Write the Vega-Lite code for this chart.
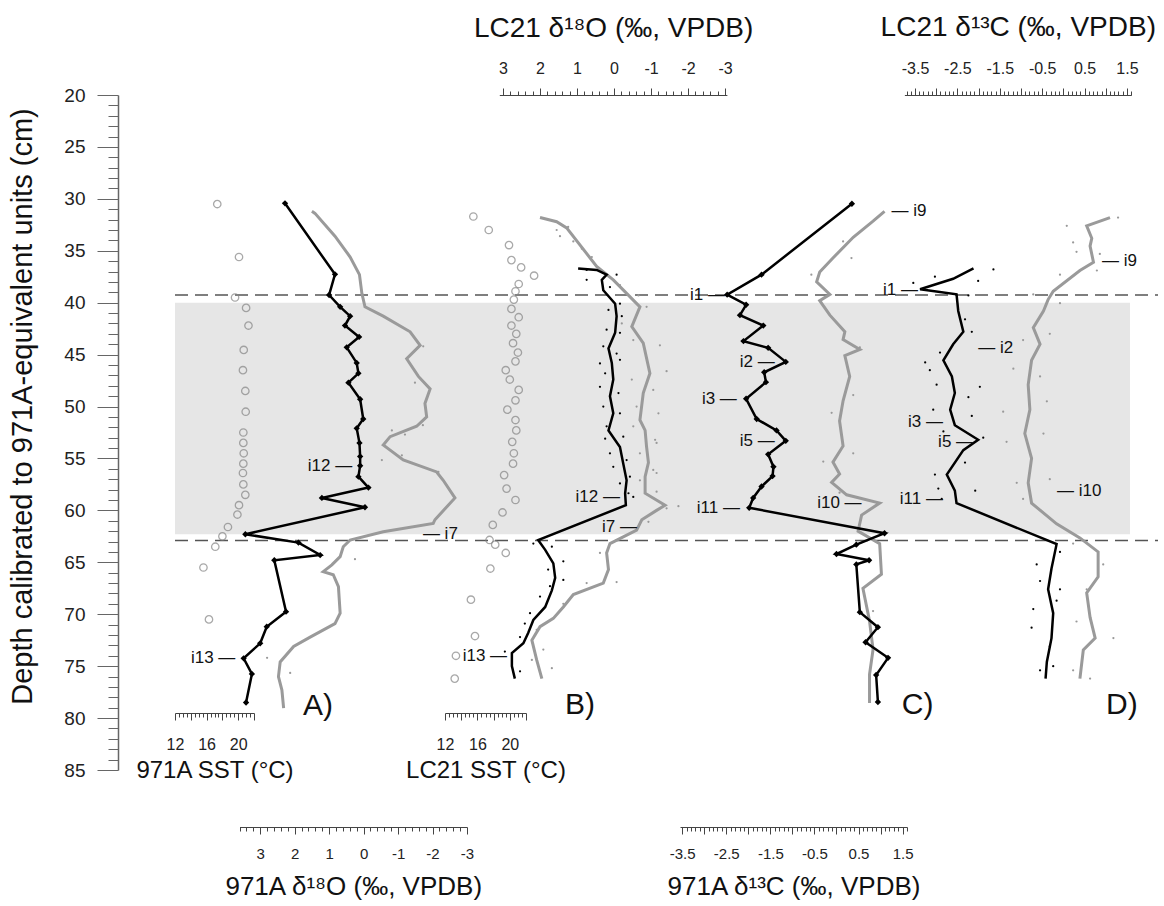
{
"$schema":"https://vega.github.io/schema/vega-lite/v6.json",
"width":1040,"height":675,
"autosize":{"type":"none"},
"padding":{"left":118,"top":95,"right":6,"bottom":136},
"config":{"view":{"stroke":null},"font":"Liberation Sans",
 "axis":{"grid":false,"labelFont":"Liberation Sans","titleFont":"Liberation Sans","titleFontWeight":"normal","labelColor":"#222","titleColor":"#111","domainColor":"#444","tickColor":"#444","labelFlush":false,"labelOverlap":false,"labelBound":false,"labelFontSize":16,"titleFontSize":28},
 "text":{"font":"Liberation Sans","color":"#111"}},
"datasets":{
 "A_sst":[{"depth":30.5,"v":17.35},{"depth":35.6,"v":20.1},{"depth":39.5,"v":19.6},{"depth":40.5,"v":21.0},{"depth":42.2,"v":21.3},{"depth":44.55,"v":20.7},{"depth":46.5,"v":20.6},{"depth":48.5,"v":20.9},{"depth":50.5,"v":20.95},{"depth":52.5,"v":20.65},{"depth":53.5,"v":20.65},{"depth":54.5,"v":20.7},{"depth":55.5,"v":20.65},{"depth":56.4,"v":20.6},{"depth":57.5,"v":20.65},{"depth":58.5,"v":20.9},{"depth":59.5,"v":20.1},{"depth":60.4,"v":19.9},{"depth":61.6,"v":18.7},{"depth":62.5,"v":18.0},{"depth":63.5,"v":17.1},{"depth":65.5,"v":15.6},{"depth":70.5,"v":16.3}],
 "B_sst":[{"depth":31.7,"v":15.5},{"depth":33.0,"v":17.4},{"depth":34.45,"v":19.9},{"depth":35.9,"v":20.2},{"depth":36.6,"v":21.4},{"depth":37.4,"v":23.0},{"depth":38.2,"v":21.1},{"depth":38.9,"v":20.7},{"depth":39.7,"v":20.5},{"depth":40.6,"v":20.2},{"depth":41.4,"v":21.1},{"depth":42.2,"v":20.2},{"depth":43.0,"v":20.8},{"depth":43.9,"v":20.4},{"depth":44.8,"v":21.0},{"depth":45.65,"v":20.7},{"depth":46.5,"v":19.5},{"depth":47.4,"v":20.0},{"depth":48.4,"v":21.1},{"depth":49.4,"v":20.7},{"depth":50.3,"v":19.7},{"depth":51.3,"v":20.7},{"depth":52.3,"v":20.8},{"depth":53.4,"v":20.3},{"depth":54.5,"v":20.5},{"depth":55.5,"v":20.4},{"depth":56.6,"v":19.3},{"depth":57.9,"v":19.6},{"depth":59.0,"v":20.7},{"depth":60.2,"v":19.1},{"depth":61.4,"v":17.9},{"depth":62.85,"v":17.5},{"depth":63.3,"v":18.2},{"depth":64.1,"v":19.5},{"depth":65.6,"v":17.6},{"depth":68.6,"v":15.2},{"depth":72.1,"v":15.7},{"depth":74.0,"v":13.35},{"depth":76.2,"v":13.2}],
 "A_black":[{"depth":30.43,"v":2.28},{"depth":37.27,"v":0.83},{"depth":39.26,"v":1.0},{"depth":40.4,"v":0.68},{"depth":41.3,"v":0.39},{"depth":42.2,"v":0.54},{"depth":43.3,"v":0.13},{"depth":44.3,"v":0.49},{"depth":45.8,"v":0.2},{"depth":46.8,"v":0.15},{"depth":47.7,"v":0.44},{"depth":49.3,"v":0.1},{"depth":51.2,"v":0.01},{"depth":52.1,"v":0.2},{"depth":53.5,"v":0.12},{"depth":54.8,"v":0.1},{"depth":55.7,"v":0.1},{"depth":56.75,"v":0.15},{"depth":57.8,"v":-0.14},{"depth":58.8,"v":1.21},{"depth":59.7,"v":-0.04},{"depth":62.3,"v":3.43},{"depth":63.1,"v":1.89},{"depth":64.3,"v":1.26},{"depth":64.8,"v":2.59},{"depth":69.75,"v":2.25},{"depth":71.2,"v":2.81},{"depth":72.8,"v":3.0},{"depth":74.25,"v":3.48},{"depth":75.75,"v":3.24},{"depth":78.5,"v":3.41}],
 "A_gray":[{"depth":31.2,"v":1.5},{"depth":31.4,"v":1.41},{"depth":33.6,"v":0.83},{"depth":35.6,"v":0.39},{"depth":37.3,"v":0.12},{"depth":39.1,"v":0.05},{"depth":40.4,"v":-0.04},{"depth":41.3,"v":-0.57},{"depth":42.8,"v":-1.35},{"depth":44.1,"v":-1.64},{"depth":45.4,"v":-1.25},{"depth":47.1,"v":-1.59},{"depth":48.3,"v":-1.93},{"depth":49.7,"v":-1.78},{"depth":51.0,"v":-1.83},{"depth":51.9,"v":-1.54},{"depth":52.9,"v":-0.77},{"depth":53.7,"v":-0.57},{"depth":54.2,"v":-0.77},{"depth":55.15,"v":-1.15},{"depth":56.3,"v":-2.12},{"depth":57.1,"v":-2.31},{"depth":58.8,"v":-2.65},{"depth":60.9,"v":-2.07},{"depth":61.25,"v":-2.02},{"depth":62.05,"v":-0.57},{"depth":62.85,"v":0.39},{"depth":63.5,"v":0.59},{"depth":64.45,"v":0.68},{"depth":65.25,"v":0.92},{"depth":65.9,"v":1.17},{"depth":66.2,"v":0.88},{"depth":67.35,"v":0.73},{"depth":69.9,"v":0.68},{"depth":70.9,"v":0.83},{"depth":72.2,"v":1.55},{"depth":73.1,"v":2.03},{"depth":74.6,"v":2.42},{"depth":76.0,"v":2.47},{"depth":77.3,"v":2.37},{"depth":79.05,"v":2.32}],
 "A_dots":[{"depth":74.2,"v":2.8},{"depth":75.65,"v":2.13},{"depth":64.7,"v":0.25},{"depth":44.2,"v":-1.73},{"depth":47.7,"v":-1.49},{"depth":51.8,"v":-1.72},{"depth":52.3,"v":-0.82},{"depth":52.7,"v":-1.2},{"depth":55.15,"v":-0.53},{"depth":54.7,"v":-1.11},{"depth":56.3,"v":-2.17}],
 "B_black":[{"depth":36.7,"v":0.97},{"depth":36.85,"v":0.47},{"depth":37.3,"v":0.2},{"depth":37.8,"v":0.33},{"depth":38.8,"v":0.29},{"depth":40.1,"v":-0.03},{"depth":41.3,"v":-0.07},{"depth":42.9,"v":-0.03},{"depth":44.4,"v":0.15},{"depth":45.8,"v":0.06},{"depth":47.4,"v":0.02},{"depth":49.0,"v":0.11},{"depth":50.65,"v":0.02},{"depth":52.3,"v":0.15},{"depth":53.9,"v":-0.16},{"depth":55.5,"v":-0.25},{"depth":57.1,"v":-0.34},{"depth":58.35,"v":-0.3},{"depth":59.5,"v":-0.32},{"depth":62.85,"v":2.05},{"depth":63.8,"v":1.86},{"depth":65.1,"v":1.64},{"depth":66.5,"v":1.59},{"depth":67.7,"v":1.68},{"depth":69.3,"v":1.86},{"depth":70.55,"v":2.18},{"depth":71.8,"v":2.32},{"depth":72.8,"v":2.45},{"depth":73.75,"v":2.76},{"depth":75.0,"v":2.76},{"depth":76.2,"v":2.68}],
 "B_gray":[{"depth":31.8,"v":2.0},{"depth":32.2,"v":1.55},{"depth":32.8,"v":1.28},{"depth":36.5,"v":0.47},{"depth":37.8,"v":0.02},{"depth":39.1,"v":-0.34},{"depth":40.4,"v":-0.7},{"depth":42.3,"v":-0.48},{"depth":43.9,"v":-0.79},{"depth":46.8,"v":-0.97},{"depth":48.7,"v":-0.79},{"depth":51.3,"v":-0.7},{"depth":52.3,"v":-0.84},{"depth":53.9,"v":-0.88},{"depth":55.4,"v":-0.93},{"depth":56.75,"v":-0.84},{"depth":58.35,"v":-0.84},{"depth":59.5,"v":-1.38},{"depth":60.0,"v":-1.15},{"depth":60.9,"v":-0.75},{"depth":61.9,"v":-0.61},{"depth":63.2,"v":0.11},{"depth":64.1,"v":0.2},{"depth":65.7,"v":0.15},{"depth":67.0,"v":0.29},{"depth":68.1,"v":1.1},{"depth":69.3,"v":1.37},{"depth":70.4,"v":1.64},{"depth":71.2,"v":2.0},{"depth":72.5,"v":2.22},{"depth":74.4,"v":2.09},{"depth":76.2,"v":1.95}],
 "B_bdots":[{"depth":36.85,"v":0.74},{"depth":37.3,"v":-0.07},{"depth":37.8,"v":0.74},{"depth":38.5,"v":0.11},{"depth":40.1,"v":-0.16},{"depth":40.7,"v":0.15},{"depth":41.3,"v":-0.21},{"depth":42.6,"v":0.2},{"depth":42.9,"v":-0.16},{"depth":44.2,"v":0.29},{"depth":44.9,"v":-0.07},{"depth":45.5,"v":-0.16},{"depth":45.85,"v":0.38},{"depth":46.8,"v":0.24},{"depth":48.1,"v":0.38},{"depth":48.7,"v":-0.12},{"depth":50.0,"v":0.29},{"depth":50.65,"v":-0.16},{"depth":51.9,"v":0.2},{"depth":52.9,"v":-0.25},{"depth":53.1,"v":0.24},{"depth":54.5,"v":0.11},{"depth":55.15,"v":-0.34},{"depth":55.8,"v":0.02},{"depth":56.75,"v":-0.43},{"depth":57.4,"v":-0.16},{"depth":58.35,"v":-0.39},{"depth":58.7,"v":-0.52},{"depth":63.2,"v":2.18},{"depth":63.5,"v":1.68},{"depth":64.9,"v":1.37},{"depth":65.7,"v":1.78},{"depth":66.7,"v":1.37},{"depth":67.3,"v":1.73},{"depth":68.3,"v":2.0},{"depth":69.9,"v":2.27},{"depth":70.9,"v":2.41},{"depth":72.2,"v":2.54},{"depth":73.6,"v":2.95},{"depth":75.5,"v":2.54}],
 "B_gdots":[{"depth":32.7,"v":1.24},{"depth":33.0,"v":1.55},{"depth":33.6,"v":1.46},{"depth":34.1,"v":1.1},{"depth":34.8,"v":0.87},{"depth":35.6,"v":0.6},{"depth":38.3,"v":-0.16},{"depth":39.3,"v":-0.66},{"depth":40.4,"v":-0.88},{"depth":42.0,"v":-0.21},{"depth":43.6,"v":-0.52},{"depth":44.1,"v":-1.24},{"depth":46.6,"v":-1.42},{"depth":47.4,"v":-0.48},{"depth":48.4,"v":-1.06},{"depth":50.0,"v":-0.61},{"depth":50.65,"v":-1.2},{"depth":51.9,"v":-0.52},{"depth":53.2,"v":-1.11},{"depth":53.5,"v":-1.15},{"depth":54.5,"v":-0.7},{"depth":56.1,"v":-1.06},{"depth":56.4,"v":-1.15},{"depth":57.1,"v":-0.7},{"depth":58.2,"v":-1.15},{"depth":59.6,"v":-1.74},{"depth":59.8,"v":-1.42},{"depth":61.1,"v":-0.93},{"depth":64.1,"v":0.38},{"depth":66.9,"v":-0.07},{"depth":67.0,"v":0.74},{"depth":69.0,"v":1.37},{"depth":71.5,"v":2.09},{"depth":73.4,"v":1.91},{"depth":74.4,"v":2.22},{"depth":75.2,"v":1.68}],
 "C_black":[{"depth":30.47,"v":0.35},{"depth":37.3,"v":-1.7},{"depth":39.23,"v":-2.48},{"depth":40.2,"v":-2.05},{"depth":41.2,"v":-2.19},{"depth":42.2,"v":-1.66},{"depth":43.7,"v":-2.11},{"depth":44.35,"v":-1.55},{"depth":45.7,"v":-1.15},{"depth":46.7,"v":-1.64},{"depth":47.65,"v":-1.6},{"depth":49.25,"v":-2.05},{"depth":51.2,"v":-1.81},{"depth":52.3,"v":-1.36},{"depth":53.3,"v":-1.15},{"depth":54.6,"v":-1.55},{"depth":55.8,"v":-1.43},{"depth":56.7,"v":-1.45},{"depth":57.7,"v":-1.7},{"depth":58.8,"v":-1.89},{"depth":59.75,"v":-1.98},{"depth":62.2,"v":1.09},{"depth":63.3,"v":0.45},{"depth":64.2,"v":0.0},{"depth":64.8,"v":0.74},{"depth":65.2,"v":0.45},{"depth":69.8,"v":0.53},{"depth":71.25,"v":0.94},{"depth":72.7,"v":0.66},{"depth":74.2,"v":1.17},{"depth":75.85,"v":0.9},{"depth":78.45,"v":0.94}],
 "C_gray":[{"depth":31.2,"v":1.09},{"depth":32.15,"v":0.83},{"depth":33.7,"v":0.38},{"depth":35.7,"v":-0.08},{"depth":37.05,"v":-0.38},{"depth":38.0,"v":-0.45},{"depth":39.2,"v":-0.15},{"depth":39.8,"v":-0.38},{"depth":41.2,"v":-0.15},{"depth":42.8,"v":0.19},{"depth":43.55,"v":0.15},{"depth":44.5,"v":0.53},{"depth":45.1,"v":0.19},{"depth":47.1,"v":0.3},{"depth":49.45,"v":0.15},{"depth":51.4,"v":0.07},{"depth":53.8,"v":0.15},{"depth":55.35,"v":-0.08},{"depth":56.5,"v":0.07},{"depth":57.3,"v":-0.11},{"depth":58.5,"v":0.23},{"depth":59.3,"v":0.98},{"depth":60.45,"v":0.57},{"depth":62.0,"v":0.49},{"depth":63.2,"v":0.98},{"depth":66.15,"v":1.02},{"depth":67.5,"v":0.6},{"depth":70.65,"v":0.75},{"depth":73.4,"v":0.83},{"depth":75.8,"v":0.75},{"depth":78.55,"v":0.75}],
 "C_gdots":[{"depth":34.1,"v":0.15},{"depth":35.7,"v":0.34},{"depth":37.3,"v":-0.57},{"depth":44.3,"v":0.53},{"depth":48.9,"v":0.38},{"depth":50.6,"v":-0.11},{"depth":54.5,"v":0.38},{"depth":55.3,"v":-0.3},{"depth":58.3,"v":0.07},{"depth":69.7,"v":0.83}],
 "D_black":[{"depth":36.7,"v":-2.12},{"depth":37.7,"v":-2.6},{"depth":38.7,"v":-3.38},{"depth":39.2,"v":-2.52},{"depth":40.8,"v":-2.48},{"depth":42.8,"v":-2.36},{"depth":44.0,"v":-2.6},{"depth":45.55,"v":-2.83},{"depth":47.1,"v":-2.63},{"depth":48.7,"v":-2.56},{"depth":50.3,"v":-2.67},{"depth":51.8,"v":-2.56},{"depth":53.2,"v":-2.01},{"depth":54.2,"v":-2.36},{"depth":56.55,"v":-2.75},{"depth":58.1,"v":-2.56},{"depth":59.3,"v":-2.52},{"depth":63.25,"v":-0.16},{"depth":65.6,"v":-0.28},{"depth":67.6,"v":-0.36},{"depth":69.9,"v":-0.24},{"depth":72.3,"v":-0.28},{"depth":74.6,"v":-0.39},{"depth":76.2,"v":-0.42}],
 "D_gray":[{"depth":31.8,"v":1.1},{"depth":32.6,"v":0.55},{"depth":33.8,"v":0.67},{"depth":34.55,"v":0.63},{"depth":36.1,"v":0.71},{"depth":36.9,"v":0.39},{"depth":38.9,"v":-0.24},{"depth":39.7,"v":-0.36},{"depth":40.8,"v":-0.47},{"depth":42.4,"v":-0.71},{"depth":44.0,"v":-0.55},{"depth":45.55,"v":-0.75},{"depth":47.9,"v":-0.83},{"depth":50.3,"v":-0.79},{"depth":52.6,"v":-0.91},{"depth":55.0,"v":-0.75},{"depth":57.35,"v":-0.83},{"depth":59.3,"v":-0.75},{"depth":61.3,"v":-0.16},{"depth":62.65,"v":0.39},{"depth":64.0,"v":0.82},{"depth":66.4,"v":0.82},{"depth":67.95,"v":0.55},{"depth":70.3,"v":0.63},{"depth":72.3,"v":0.75},{"depth":73.45,"v":0.47},{"depth":76.2,"v":0.39}],
 "D_bdots":[{"depth":36.8,"v":-1.65},{"depth":37.5,"v":-3.03},{"depth":37.9,"v":-2.01},{"depth":38.1,"v":-3.54},{"depth":39.3,"v":-2.24},{"depth":41.6,"v":-2.32},{"depth":42.8,"v":-2.16},{"depth":44.8,"v":-2.91},{"depth":45.75,"v":-3.26},{"depth":46.5,"v":-3.15},{"depth":47.9,"v":-2.99},{"depth":48.1,"v":-1.97},{"depth":49.1,"v":-2.24},{"depth":50.3,"v":-3.07},{"depth":50.9,"v":-2.16},{"depth":52.4,"v":-2.83},{"depth":53.0,"v":-1.89},{"depth":55.4,"v":-2.32},{"depth":56.55,"v":-3.03},{"depth":57.9,"v":-2.95},{"depth":58.1,"v":-2.08},{"depth":58.9,"v":-2.87},{"depth":64.0,"v":-0.08},{"depth":65.2,"v":-0.63},{"depth":66.8,"v":-0.55},{"depth":67.6,"v":-0.08},{"depth":68.7,"v":-0.16},{"depth":69.5,"v":-0.71},{"depth":71.3,"v":-0.75},{"depth":73.1,"v":-0.32},{"depth":75.0,"v":-0.24},{"depth":75.4,"v":-0.55}],
 "D_gdots":[{"depth":31.8,"v":1.29},{"depth":32.6,"v":0.08},{"depth":34.2,"v":0.23},{"depth":35.1,"v":0.31},{"depth":35.3,"v":0.86},{"depth":36.9,"v":0.79},{"depth":37.3,"v":-0.08},{"depth":39.2,"v":-0.71},{"depth":40.05,"v":-0.08},{"depth":43.0,"v":-0.32},{"depth":43.6,"v":-0.95},{"depth":46.35,"v":-1.18},{"depth":47.1,"v":-0.55},{"depth":49.5,"v":-0.39},{"depth":50.5,"v":-1.42},{"depth":52.6,"v":-0.47},{"depth":53.4,"v":-1.34},{"depth":57.0,"v":-0.32},{"depth":57.35,"v":-1.1},{"depth":58.9,"v":-0.95},{"depth":63.2,"v":0.23},{"depth":65.2,"v":0.94},{"depth":67.6,"v":0.55},{"depth":70.7,"v":0.31},{"depth":72.3,"v":1.18},{"depth":75.4,"v":0.23},{"depth":76.2,"v":0.63}],
 "labs":[
  {"panel":"A","side":"R","depth":55.7,"v":0.33,"label":"i12 —"},
  {"panel":"A","side":"R","depth":74.2,"v":3.72,"label":"i13 —"},
  {"panel":"A","side":"L","depth":62.3,"v":-1.72,"label":"— i7"},
  {"panel":"A","side":"C","depth":78.8,"v":1.32,"label":"A)"},
  {"panel":"B","side":"R","depth":58.67,"v":-0.16,"label":"i12 —"},
  {"panel":"B","side":"R","depth":61.57,"v":-0.62,"label":"i7 —"},
  {"panel":"B","side":"R","depth":74.0,"v":2.89,"label":"i13 —"},
  {"panel":"B","side":"C","depth":78.7,"v":0.92,"label":"B)"},
  {"panel":"C","side":"R","depth":39.23,"v":-2.53,"label":"i1 —"},
  {"panel":"C","side":"R","depth":45.7,"v":-1.4,"label":"i2 —"},
  {"panel":"C","side":"R","depth":49.25,"v":-2.26,"label":"i3 —"},
  {"panel":"C","side":"R","depth":53.3,"v":-1.4,"label":"i5 —"},
  {"panel":"C","side":"R","depth":59.75,"v":-2.19,"label":"i11 —"},
  {"panel":"C","side":"R","depth":59.3,"v":0.57,"label":"i10 —"},
  {"panel":"C","side":"L","depth":31.2,"v":1.25,"label":"— i9"},
  {"panel":"C","side":"C","depth":78.7,"v":1.84,"label":"C)"},
  {"panel":"D","side":"R","depth":38.8,"v":-3.43,"label":"i1 —"},
  {"panel":"D","side":"L","depth":44.4,"v":-2.01,"label":"— i2"},
  {"panel":"D","side":"R","depth":51.45,"v":-2.84,"label":"i3 —"},
  {"panel":"D","side":"R","depth":53.4,"v":-2.13,"label":"i5 —"},
  {"panel":"D","side":"R","depth":58.9,"v":-2.84,"label":"i11 —"},
  {"panel":"D","side":"L","depth":58.1,"v":-0.15,"label":"— i10"},
  {"panel":"D","side":"L","depth":36.0,"v":0.91,"label":"— i9"},
  {"panel":"D","side":"C","depth":78.7,"v":1.38,"label":"D)"}
 ]
},
"encoding":{"y":{"field":"depth","type":"quantitative",
 "scale":{"domain":[20,85],"reverse":true,"nice":false,"zero":false},
 "axis":{"values":[20,21,22,23,24,25,26,27,28,29,30,31,32,33,34,35,36,37,38,39,40,41,42,43,44,45,46,47,48,49,50,51,52,53,54,55,56,57,58,59,60,61,62,63,64,65,66,67,68,69,70,71,72,73,74,75,76,77,78,79,80,81,82,83,84,85],
  "tickSize":{"condition":{"test":"datum.value % 5 == 0","value":21},"value":10},
  "labelExpr":"datum.value % 5 == 0 ? '' + datum.value : ''",
  "labelFontSize":19,"labelPadding":12,"domainColor":"#666","tickColor":"#666","domainWidth":1.5,
  "title":"Depth calibrated to 971A-equivalent units (cm)","titleFontSize":29,"titleX":-96,"titleY":311,"titleAngle":-90,"titleBaseline":"middle","titleAlign":"center"}}},
"layer":[
 {"data":{"values":[{"depth":40.0,"depth2":62.3,"xa":0,"xb":1}]},
  "mark":{"type":"rect","color":"#e6e6e6"},
  "encoding":{"x":{"field":"xa","type":"quantitative","scale":{"domain":[0,1],"range":[57,1012],"nice":false,"zero":false},"axis":null},"x2":{"field":"xb"},"y2":{"field":"depth2"}}},
 {"data":{"values":[{"depth":39.26,"xa":0,"xb":1},{"depth":62.9,"xa":0,"xb":1}]},
  "mark":{"type":"rule","color":"#555","strokeWidth":1.5,"strokeDash":[13,7]},
  "encoding":{"x":{"field":"xa","type":"quantitative","scale":{"domain":[0,1],"range":[57,1040],"nice":false,"zero":false},"axis":null},"x2":{"field":"xb"}}},
 {"data":{"name":"A_sst"},
  "mark":{"type":"point","shape":"circle","filled":false,"stroke":"#858585","strokeWidth":1.3,"size":55},
  "encoding":{"x":{"field":"v","type":"quantitative","scale":{"domain":[12,22],"range":[57,136],"nice":false,"zero":false},
   "axis":{"orient":"bottom","offset":-57,"values":[12,12.5,13,13.5,14,14.5,15,15.5,16,16.5,17,17.5,18,18.5,19,19.5,20,20.5,21,21.5,22],
    "tickSize":{"condition":{"test":"datum.value % 2 == 0","value":7},"value":4},
    "labelExpr":"datum.value % 4 == 0 ? '' + datum.value : ''","labelPadding":16,
    "title":"971A SST (°C)","titleFontSize":24,"titleY":57,"titleBaseline":"middle"}}}},
 {"data":{"name":"B_sst"},
  "mark":{"type":"point","shape":"circle","filled":false,"stroke":"#858585","strokeWidth":1.3,"size":55},
  "encoding":{"x":{"field":"v","type":"quantitative","scale":{"domain":[12,22],"range":[327,408],"nice":false,"zero":false},
   "axis":{"orient":"bottom","offset":-57,"values":[12,12.5,13,13.5,14,14.5,15,15.5,16,16.5,17,17.5,18,18.5,19,19.5,20,20.5,21,21.5,22],
    "tickSize":{"condition":{"test":"datum.value % 2 == 0","value":7},"value":4},
    "labelExpr":"datum.value % 4 == 0 ? '' + datum.value : ''","labelPadding":16,
    "title":"LC21 SST (°C)","titleFontSize":24,"titleY":57,"titleBaseline":"middle"}}}},
 {"encoding":{"x":{"field":"v","type":"quantitative","scale":{"domain":[3.6,-3],"range":[121.5,349],"nice":false,"zero":false},
   "axis":{"orient":"bottom","offset":57,"values":[3.6,3.4,3.2,3,2.8,2.6,2.4,2.2,2,1.8,1.6,1.4,1.2,1,0.8,0.6,0.4,0.2,0,-0.2,-0.4,-0.6,-0.8,-1,-1.2,-1.4,-1.6,-1.8,-2,-2.2,-2.4,-2.6,-2.8,-3],
    "tickSize":{"condition":{"test":"abs(datum.value - round(datum.value)) < 0.01","value":7},"value":4},
    "labelExpr":"abs(datum.value - round(datum.value)) < 0.01 ? '' + round(datum.value) : ''","labelPadding":12,"labelFontSize":15,
    "title":"971A δ¹⁸O (‰, VPDB)","titleFontSize":26,"titleY":59,"titleBaseline":"middle"}}},
  "layer":[
   {"data":{"name":"A_dots"},"mark":{"type":"circle","color":"#999","size":5,"opacity":1}},
   {"data":{"name":"A_gray"},"mark":{"type":"line","color":"#9a9a9a","strokeWidth":3},"encoding":{"order":{"field":"depth","type":"quantitative"}}},
   {"data":{"name":"A_black"},"mark":{"type":"line","color":"#000","strokeWidth":2.5},"encoding":{"order":{"field":"depth","type":"quantitative"}}},
   {"data":{"name":"A_black"},"mark":{"type":"point","shape":"diamond","filled":true,"color":"#000","size":40,"opacity":1}},
   {"data":{"name":"labs"},"transform":[{"filter":"datum.panel=='A' && datum.side=='R'"}],"mark":{"type":"text","align":"right","baseline":"middle","fontSize":17},"encoding":{"text":{"field":"label"}}},
   {"data":{"name":"labs"},"transform":[{"filter":"datum.panel=='A' && datum.side=='L'"}],"mark":{"type":"text","align":"left","baseline":"middle","fontSize":17},"encoding":{"text":{"field":"label"}}},
   {"data":{"name":"labs"},"transform":[{"filter":"datum.panel=='A' && datum.side=='C'"}],"mark":{"type":"text","align":"center","baseline":"middle","fontSize":30},"encoding":{"text":{"field":"label"}}}
  ]},
 {"encoding":{"x":{"field":"v","type":"quantitative","scale":{"domain":[3.1,-3.05],"range":[381.3,608.9],"nice":false,"zero":false},
   "axis":{"orient":"top","offset":0,"values":[3,2.8,2.6,2.4,2.2,2,1.8,1.6,1.4,1.2,1,0.8,0.6,0.4,0.2,0,-0.2,-0.4,-0.6,-0.8,-1,-1.2,-1.4,-1.6,-1.8,-2,-2.2,-2.4,-2.6,-2.8,-3],
    "tickSize":{"condition":{"test":"abs(datum.value - round(datum.value)) < 0.01","value":7},"value":4},
    "labelExpr":"abs(datum.value - round(datum.value)) < 0.01 ? '' + round(datum.value) : ''","labelPadding":12,
    "title":"LC21 δ¹⁸O (‰, VPDB)","titleY":-67,"titleBaseline":"middle"}}},
  "layer":[
   {"data":{"name":"B_gdots"},"mark":{"type":"circle","color":"#999","size":5,"opacity":1}},
   {"data":{"name":"B_gray"},"mark":{"type":"line","color":"#9a9a9a","strokeWidth":3},"encoding":{"order":{"field":"depth","type":"quantitative"}}},
   {"data":{"name":"B_bdots"},"mark":{"type":"circle","color":"#000","size":5,"opacity":1}},
   {"data":{"name":"B_black"},"mark":{"type":"line","color":"#000","strokeWidth":2.5},"encoding":{"order":{"field":"depth","type":"quantitative"}}},
   {"data":{"name":"labs"},"transform":[{"filter":"datum.panel=='B' && datum.side=='R'"}],"mark":{"type":"text","align":"right","baseline":"middle","fontSize":17},"encoding":{"text":{"field":"label"}}},
   {"data":{"name":"labs"},"transform":[{"filter":"datum.panel=='B' && datum.side=='C'"}],"mark":{"type":"text","align":"center","baseline":"middle","fontSize":30},"encoding":{"text":{"field":"label"}}}
  ]},
 {"encoding":{"x":{"field":"v","type":"quantitative","scale":{"domain":[-3.55,1.6],"range":[562,789],"nice":false,"zero":false},
   "axis":{"orient":"bottom","offset":57,"values":[-3.5,-3.4,-3.3,-3.2,-3.1,-3,-2.9,-2.8,-2.7,-2.6,-2.5,-2.4,-2.3,-2.2,-2.1,-2,-1.9,-1.8,-1.7,-1.6,-1.5,-1.4,-1.3,-1.2,-1.1,-1,-0.9,-0.8,-0.7,-0.6,-0.5,-0.4,-0.3,-0.2,-0.1,0,0.1,0.2,0.3,0.4,0.5,0.6,0.7,0.8,0.9,1,1.1,1.2,1.3,1.4,1.5,1.6],
    "tickSize":{"condition":{"test":"abs(datum.value*2 - round(datum.value*2)) < 0.01","value":7},"value":4},
    "labelExpr":"abs(datum.value - floor(datum.value) - 0.5) < 0.01 ? '' + (round(datum.value*10)/10) : ''","labelPadding":12,"labelFontSize":15,
    "title":"971A δ¹³C (‰, VPDB)","titleFontSize":26,"titleY":59,"titleBaseline":"middle"}}},
  "layer":[
   {"data":{"name":"C_gdots"},"mark":{"type":"circle","color":"#999","size":5,"opacity":1}},
   {"data":{"name":"C_gray"},"mark":{"type":"line","color":"#9a9a9a","strokeWidth":3},"encoding":{"order":{"field":"depth","type":"quantitative"}}},
   {"data":{"name":"C_black"},"mark":{"type":"line","color":"#000","strokeWidth":2.5},"encoding":{"order":{"field":"depth","type":"quantitative"}}},
   {"data":{"name":"C_black"},"mark":{"type":"point","shape":"diamond","filled":true,"color":"#000","size":40,"opacity":1}},
   {"data":{"name":"labs"},"transform":[{"filter":"datum.panel=='C' && datum.side=='R'"}],"mark":{"type":"text","align":"right","baseline":"middle","fontSize":17},"encoding":{"text":{"field":"label"}}},
   {"data":{"name":"labs"},"transform":[{"filter":"datum.panel=='C' && datum.side=='L'"}],"mark":{"type":"text","align":"left","baseline":"middle","fontSize":17},"encoding":{"text":{"field":"label"}}},
   {"data":{"name":"labs"},"transform":[{"filter":"datum.panel=='C' && datum.side=='C'"}],"mark":{"type":"text","align":"center","baseline":"middle","fontSize":30},"encoding":{"text":{"field":"label"}}}
  ]},
 {"encoding":{"x":{"field":"v","type":"quantitative","scale":{"domain":[-3.75,1.6],"range":[786.4,1013.2],"nice":false,"zero":false},
   "axis":{"orient":"top","offset":0,"values":[-3.7,-3.6,-3.5,-3.4,-3.3,-3.2,-3.1,-3,-2.9,-2.8,-2.7,-2.6,-2.5,-2.4,-2.3,-2.2,-2.1,-2,-1.9,-1.8,-1.7,-1.6,-1.5,-1.4,-1.3,-1.2,-1.1,-1,-0.9,-0.8,-0.7,-0.6,-0.5,-0.4,-0.3,-0.2,-0.1,0,0.1,0.2,0.3,0.4,0.5,0.6,0.7,0.8,0.9,1,1.1,1.2,1.3,1.4,1.5,1.6],
    "tickSize":{"condition":{"test":"abs(datum.value*2 - round(datum.value*2)) < 0.01","value":7},"value":4},
    "labelExpr":"abs(datum.value - floor(datum.value) - 0.5) < 0.01 ? '' + (round(datum.value*10)/10) : ''","labelPadding":12,
    "title":"LC21 δ¹³C (‰, VPDB)","titleY":-68,"titleBaseline":"middle"}}},
  "layer":[
   {"data":{"name":"D_gdots"},"mark":{"type":"circle","color":"#999","size":5,"opacity":1}},
   {"data":{"name":"D_gray"},"mark":{"type":"line","color":"#9a9a9a","strokeWidth":3},"encoding":{"order":{"field":"depth","type":"quantitative"}}},
   {"data":{"name":"D_bdots"},"mark":{"type":"circle","color":"#000","size":5,"opacity":1}},
   {"data":{"name":"D_black"},"mark":{"type":"line","color":"#000","strokeWidth":2.5},"encoding":{"order":{"field":"depth","type":"quantitative"}}},
   {"data":{"name":"labs"},"transform":[{"filter":"datum.panel=='D' && datum.side=='R'"}],"mark":{"type":"text","align":"right","baseline":"middle","fontSize":17},"encoding":{"text":{"field":"label"}}},
   {"data":{"name":"labs"},"transform":[{"filter":"datum.panel=='D' && datum.side=='L'"}],"mark":{"type":"text","align":"left","baseline":"middle","fontSize":17},"encoding":{"text":{"field":"label"}}},
   {"data":{"name":"labs"},"transform":[{"filter":"datum.panel=='D' && datum.side=='C'"}],"mark":{"type":"text","align":"center","baseline":"middle","fontSize":30},"encoding":{"text":{"field":"label"}}}
  ]}
],
"resolve":{"scale":{"x":"independent"},"axis":{"x":"independent"}}
}
